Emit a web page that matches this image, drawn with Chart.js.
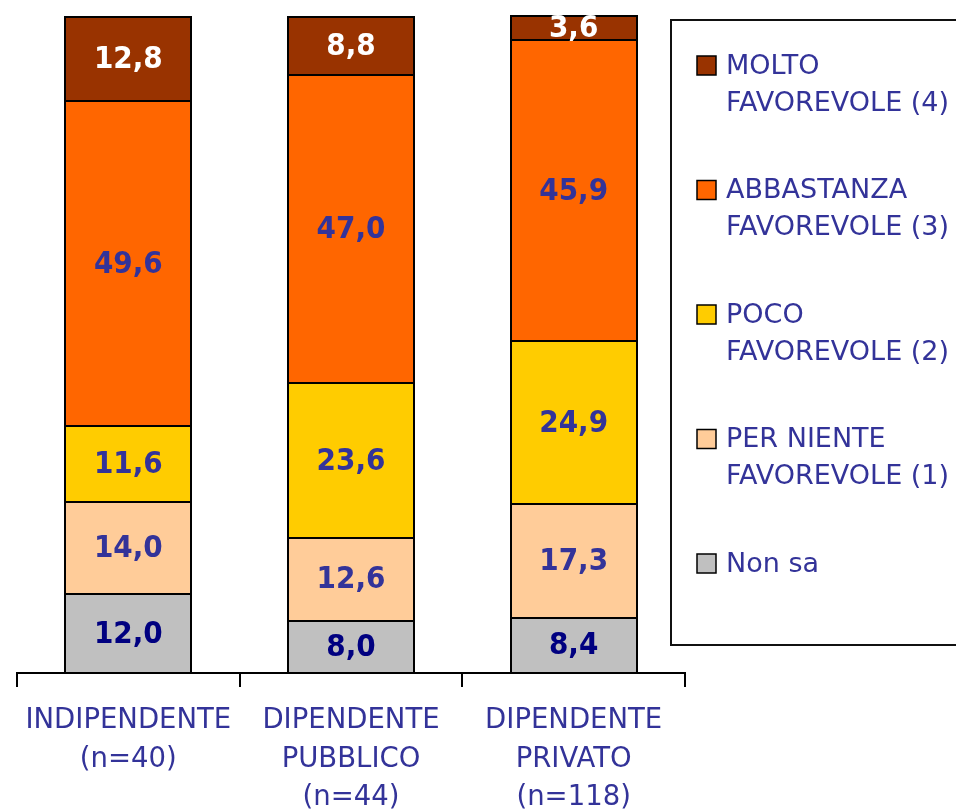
<!DOCTYPE html>
<html>
<head>
<meta charset="utf-8">
<script src="https://cdn.jsdelivr.net/npm/chart.js@4/dist/chart.umd.min.js"></script>
<style>
html,body{margin:0;padding:0;background:#fff;}
#wrap{width:956px;height:810px;position:relative;}
</style>
</head>
<body>
<div id="wrap"><canvas id="c"></canvas></div>
<script>
// ---- data ----
const categories = [
  ['INDIPENDENTE', '(n=40)'],
  ['DIPENDENTE', 'PUBBLICO', '(n=44)'],
  ['DIPENDENTE', 'PRIVATO', '(n=118)']
];
const seriesNames = [
  ['Non sa'],
  ['PER NIENTE', 'FAVOREVOLE (1)'],
  ['POCO', 'FAVOREVOLE (2)'],
  ['ABBASTANZA', 'FAVOREVOLE (3)'],
  ['MOLTO', 'FAVOREVOLE (4)']
];
const nonSa        = [12.0, 8.0, 8.4];
const perNiente    = [14.0, 12.6, 17.3];
const poco         = [11.6, 23.6, 24.9];
const abbastanza   = [49.6, 47.0, 45.9];
const molto        = [12.8, 8.8, 3.6];
const seriesValues = [nonSa, perNiente, poco, abbastanza, molto];
const seriesColors = ['#C0C0C0', '#FFCC99', '#FFCC00', '#FF6600', '#993300'];
const labelColors  = ['#000080', '#333399', '#333399', '#333399', '#FFFFFF'];

const datasets = seriesValues.map((vals, i) => ({
  label: seriesNames[i].join(' '),
  data: vals,
  backgroundColor: seriesColors[i],
  borderWidth: 0,
  barPercentage: 1,
  categoryPercentage: 0.565
}));

// outline every segment with a crisp 2px black stroke, using the element geometry from the library
const segmentBorders = {
  id: 'segmentBorders',
  afterDatasetsDraw(chart) {
    const ctx = chart.ctx;
    ctx.save();
    ctx.strokeStyle = '#000';
    ctx.lineWidth = 2;
    chart.data.datasets.forEach((ds, i) => {
      chart.getDatasetMeta(i).data.forEach(el => {
        const p = el.getProps(['x', 'y', 'base', 'width'], true);
        const l = Math.round(p.x - p.width / 2), r = Math.round(p.x + p.width / 2);
        const t = Math.round(Math.min(p.y, p.base)), b = Math.round(Math.max(p.y, p.base));
        ctx.strokeRect(l, t, r - l, b - t);
      });
    });
    ctx.restore();
  }
};

const valueLabels = {
  id: 'valueLabels',
  afterDatasetsDraw(chart) {
    const ctx = chart.ctx;
    chart.data.datasets.forEach((ds, i) => {
      const meta = chart.getDatasetMeta(i);
      meta.data.forEach((el, j) => {
        const p = el.getProps(['x', 'y', 'base'], true);
        const v = ds.data[j];
        ctx.save();
        ctx.font = 'bold 31px "DejaVu Sans"';
        ctx.textAlign = 'center';
        ctx.textBaseline = 'middle';
        ctx.fillStyle = labelColors[i];
        ctx.translate(p.x, (p.y + p.base) / 2 + 1);
        ctx.scale(0.9, 1);
        ctx.fillText(v.toFixed(1).replace('.', ','), 0, 0);
        ctx.restore();
      });
    });
  }
};

const customLegend = {
  id: 'customLegend',
  afterDraw(chart) {
    const ctx = chart.ctx;
    ctx.save();
    ctx.lineWidth = 2;
    ctx.strokeStyle = '#111';
    ctx.strokeRect(671, 20, 320, 625);
    ctx.font = '27px "DejaVu Sans"';
    ctx.textBaseline = 'middle';
    ctx.textAlign = 'left';
    const n = chart.data.datasets.length;
    for (let k = 0; k < n; k++) {
      const i = n - 1 - k;
      const cy = 65.5 + k * 124.5;
      ctx.fillStyle = seriesColors[i];
      ctx.fillRect(697, cy - 9.5, 19, 19);
      ctx.lineWidth = 1.5;
      ctx.strokeStyle = '#000';
      ctx.strokeRect(697, cy - 9.5, 19, 19);
      ctx.fillStyle = '#333399';
      seriesNames[i].forEach((t, li) => {
        ctx.fillText(t, 726, cy + 1 + li * 37);
      });
    }
    ctx.restore();
  }
};

new Chart(document.getElementById('c'), {
  type: 'bar',
  data: { labels: categories, datasets },
  options: {
    responsive: true,
    maintainAspectRatio: false,
    animation: false,
    layout: { padding: { left: 17, right: 271, top: 17, bottom: 0 } },
    plugins: { legend: { display: false }, tooltip: { enabled: false } },
    scales: {
      x: {
        stacked: true,
        grid: { display: true, drawOnChartArea: false, drawTicks: true, tickLength: 14, color: '#000', lineWidth: 2, offset: true },
        border: { display: true, color: '#000', width: 2 },
        ticks: {
          color: '#333399',
          font: { family: 'DejaVu Sans', size: 27.5, lineHeight: 1.4 },
          padding: 15,
          maxRotation: 0,
          autoSkip: false
        },
        afterFit(s) { s.height = 137; }
      },
      y: { stacked: true, min: 0, max: 100, display: false }
    }
  },
  plugins: [segmentBorders, valueLabels, customLegend]
});
</script>
</body>
</html>
